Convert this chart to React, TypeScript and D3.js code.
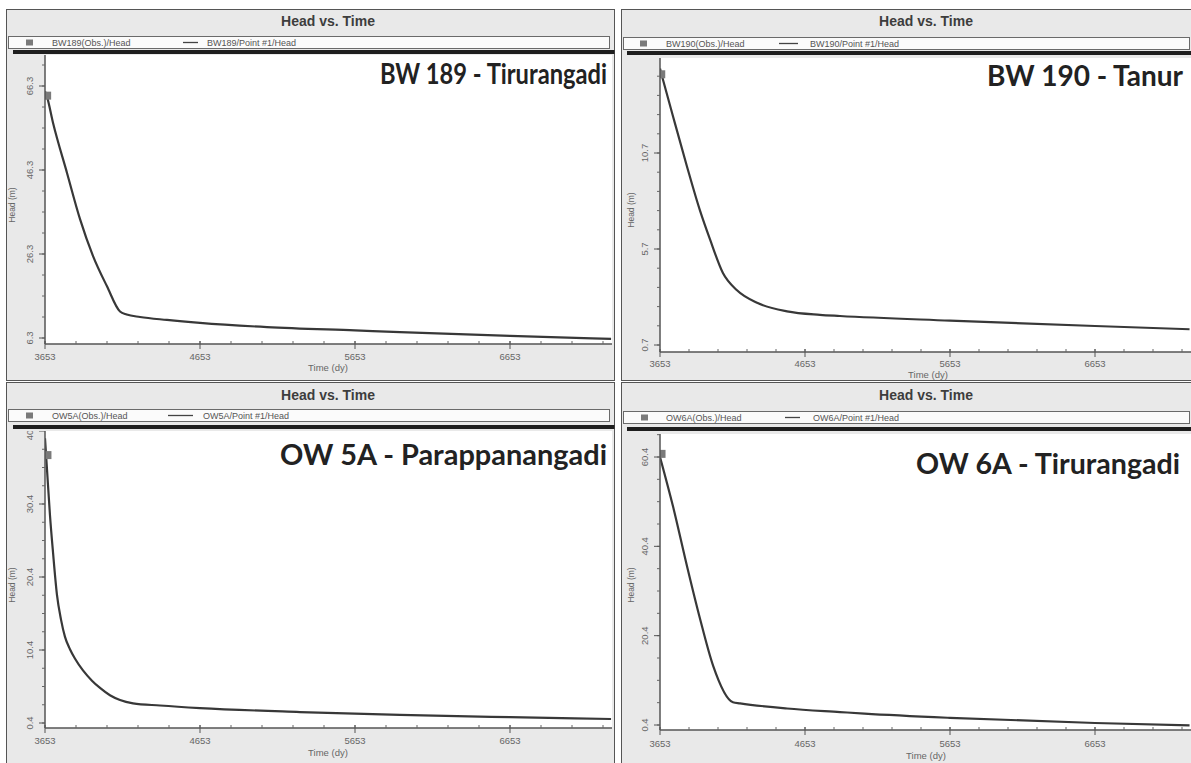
import * as d3 from "d3"

// --- data ---
const xTicks = [3653, 4653, 5653, 6653]
const xEnd = 7305

const bw189Days = [3653, 3666, 3705, 3795, 3879, 3963, 4053, 4137, 4180, 4266, 4440, 4653, 5085, 5653, 5943, 6653, 7305]
const bw189Head = [65.0, 63.7, 57.5, 45.6, 34.6, 25.8, 18.6, 12.6, 11.9, 11.3, 10.6, 9.9, 8.9, 8.1, 7.7, 6.8, 6.1]
const bw189Obs = [{ day: 3670, head: 64.0 }]
const bw189Ticks = [6.3, 26.3, 46.3, 66.3]

const bw190Days = [3653, 3667, 3743, 3839, 3929, 3998, 4087, 4184, 4322, 4529, 4756, 4894, 5653, 6653, 7305]
const bw190Head = [15.1, 14.7, 12.6, 10.0, 7.7, 6.2, 4.45, 3.55, 2.9, 2.45, 2.27, 2.21, 1.97, 1.69, 1.52]
const bw190Obs = [{ day: 3665, head: 14.8 }]
const bw190Ticks = [0.7, 5.7, 10.7]

const ow5aDays = [3653, 3666, 3685, 3705, 3730, 3756, 3782, 3814, 3847, 3898, 3956, 4008, 4072, 4137, 4221, 4395, 4653, 5298, 5943, 6653, 7305]
const ow5aHead = [39.4, 35.1, 28.9, 23.7, 18.0, 14.6, 12.2, 10.5, 9.2, 7.6, 6.2, 5.2, 4.2, 3.55, 3.1, 2.8, 2.45, 1.9, 1.5, 1.2, 0.95]
const ow5aObs = [{ day: 3672, head: 37.1 }]
const ow5aTicks = [0.4, 10.4, 20.4, 30.4, 40.4]

const ow6aDays = [3653, 3743, 3839, 3929, 4019, 4156, 4205, 4529, 4894, 5063, 5653, 6653, 7305]
const ow6aHead = [60.4, 49.3, 36.0, 24.2, 13.7, 5.5, 5.25, 4.1, 3.3, 2.95, 2.0, 0.85, 0.3]
const ow6aObs = [{ day: 3667, head: 61.1 }]
const ow6aTicks = [0.4, 20.4, 40.4, 60.4]

const FONT = "'Liberation Sans', Arial, sans-serif"

interface Panel {
  id: string
  well: string
  name: string
  days: number[]
  head: number[]
  obs: { day: number; head: number }[]
  yTicks: number[]
  yMinor: number
  frame: { x: number; y: number; w: number; h: number }
  titleY: number
  titleX: number
  legend: { y: number; x: number; w: number; sq: number; t1: number; l1: number; l2: number; t2: number }
  barY: number
  barX: number
  plot: { left: number; right: number; top: number; axis: number }
  yVals: [number, number]
  yPx: [number, number]
  xPx: [number, number]
  yLabelX: number
  yTitle: [number, number]
  xLabelY: number
  xTitle: [number, number]
  big: { x: number; y: number; w: number }
}

const panels: Panel[] = [
  {
    id: "tl", well: "BW189", name: "BW 189 - Tirurangadi",
    days: bw189Days, head: bw189Head, obs: bw189Obs, yTicks: bw189Ticks, yMinor: 5,
    frame: { x: 6.5, y: 9.5, w: 608, h: 371 }, titleX: 328, titleY: 26,
    legend: { y: 36.5, x: 8.5, w: 601, sq: 26, t1: 52, l1: 183, l2: 198, t2: 207 },
    barY: 50, barX: 13,
    plot: { left: 45, right: 612, top: 55, axis: 344 },
    yVals: [6.3, 46.3], yPx: [338, 170], xPx: [45, 510],
    yLabelX: 30, yTitle: [13, 205], xLabelY: 360, xTitle: [328, 371],
    big: { x: 380, y: 84, w: 227 },
  },
  {
    id: "tr", well: "BW190", name: "BW 190 - Tanur",
    days: bw190Days, head: bw190Head, obs: bw190Obs, yTicks: bw190Ticks, yMinor: 1,
    frame: { x: 621.5, y: 9.5, w: 580, h: 371 }, titleX: 926, titleY: 26,
    legend: { y: 37.5, x: 623.5, w: 566, sq: 640, t1: 666, l1: 779, l2: 798, t2: 810 },
    barY: 51, barX: 627,
    plot: { left: 660, right: 1191, top: 58, axis: 352 },
    yVals: [0.7, 10.7], yPx: [345, 153], xPx: [660, 1095],
    yLabelX: 645, yTitle: [632, 210], xLabelY: 367, xTitle: [928, 378],
    big: { x: 987, y: 86, w: 196 },
  },
  {
    id: "bl", well: "OW5A", name: "OW 5A - Parappanangadi",
    days: ow5aDays, head: ow5aHead, obs: ow5aObs, yTicks: ow5aTicks, yMinor: 2.5,
    frame: { x: 6.5, y: 382.5, w: 608, h: 390 }, titleX: 328, titleY: 400,
    legend: { y: 409.5, x: 8.5, w: 601, sq: 26, t1: 52, l1: 168, l2: 193, t2: 203 },
    barY: 425, barX: 13,
    plot: { left: 45, right: 612, top: 431, axis: 728 },
    yVals: [0.4, 10.4], yPx: [723, 650], xPx: [45, 510],
    yLabelX: 30, yTitle: [13, 585], xLabelY: 744, xTitle: [328, 756],
    big: { x: 280, y: 465, w: 327 },
  },
  {
    id: "br", well: "OW6A", name: "OW 6A - Tirurangadi",
    days: ow6aDays, head: ow6aHead, obs: ow6aObs, yTicks: ow6aTicks, yMinor: 5,
    frame: { x: 621.5, y: 382.5, w: 580, h: 390 }, titleX: 926, titleY: 400,
    legend: { y: 411.5, x: 623.5, w: 566, sq: 641, t1: 666, l1: 785, l2: 800, t2: 813 },
    barY: 427, barX: 627,
    plot: { left: 660, right: 1191, top: 434, axis: 730 },
    yVals: [0.4, 60.4], yPx: [725, 457], xPx: [660, 1095],
    yLabelX: 645, yTitle: [632, 585], xLabelY: 747, xTitle: [926, 759],
    big: { x: 916, y: 474, w: 264 },
  },
]

const HeadPanel = ({ p }: { p: Panel }) => {
  const { plot } = p
  const y = d3.scaleLinear().domain(p.yVals).range(p.yPx)
  const x = d3.scaleLinear().domain([xTicks[0], xTicks[3]]).range(p.xPx)
  const yTop = y.invert(plot.top)
  const yMinorTicks = d3.range(p.yTicks[0], yTop, p.yMinor).filter((v) => y(v) >= plot.top)
  const xMinorTicks = d3.range(xTicks[0], xEnd, 200).filter((v) => x(v) <= plot.right)
  const pts = p.days.map((d, i) => [d, p.head[i]] as [number, number])
  const line = d3.line<[number, number]>().x((d) => x(d[0])).y((d) => y(d[1])).curve(d3.curveMonotoneX)
  const clipId = `clip-${p.id}`
  const axisClip = `aclip-${p.id}`
  const f = p.frame
  const lg = p.legend

  return (
    <g>
      <defs>
        <clipPath id={clipId}>
          <rect x={plot.left} y={plot.top} width={plot.right - plot.left} height={plot.axis - plot.top} />
        </clipPath>
        <clipPath id={axisClip}>
          <rect x={f.x} y={plot.top} width={f.w} height={f.y + f.h - plot.top} />
        </clipPath>
      </defs>
      <rect x={f.x} y={f.y} width={f.w} height={f.h} fill="#e9e9e9" stroke="#555" strokeWidth={1} />
      <rect x={plot.left} y={plot.top} width={plot.right - plot.left} height={plot.axis - plot.top} fill="#fff" />
      <text x={p.titleX} y={p.titleY} textAnchor="middle" fontFamily={FONT} fontWeight="bold" fontSize={14} fill="#3d3d3d">
        Head vs. Time
      </text>

      {/* curve and observation */}
      <g clipPath={`url(#${clipId})`}>
        <path d={line(pts) ?? ""} fill="none" stroke="#383838" strokeWidth={2.2} />
        {p.obs.map((o, i) => (
          <rect key={i} x={x(o.day) - 3.5} y={y(o.head) - 4} width={7} height={8} fill="#7a7a7a" />
        ))}
      </g>

      {/* axes */}
      <g clipPath={`url(#${axisClip})`} fontFamily={FONT} fill="#666">
        <line x1={plot.left} x2={plot.left} y1={plot.top} y2={plot.axis} stroke="#555" strokeWidth={1.5} />
        <line x1={plot.left} x2={plot.right} y1={plot.axis} y2={plot.axis} stroke="#555" strokeWidth={1.5} />
        {yMinorTicks.map((v) => (
          <line key={`ym${v}`} x1={plot.left - 3} x2={plot.left} y1={y(v)} y2={y(v)} stroke="#666" />
        ))}
        {p.yTicks.map((v) => (
          <g key={`y${v}`}>
            <line x1={plot.left - 6} x2={plot.left} y1={y(v)} y2={y(v)} stroke="#555" />
            <text
              x={p.yLabelX}
              y={y(v)}
              transform={`rotate(-90, ${p.yLabelX}, ${y(v)})`}
              textAnchor="middle"
              dominantBaseline="middle"
              fontSize={9.5}
            >
              {String(v)}
            </text>
          </g>
        ))}
        {xMinorTicks.map((v) => (
          <line key={`xm${v}`} x1={x(v)} x2={x(v)} y1={plot.axis - 3} y2={plot.axis} stroke="#666" />
        ))}
        {xTicks.map((v) => (
          <g key={`x${v}`}>
            <line x1={x(v)} x2={x(v)} y1={plot.axis - 3} y2={plot.axis + 5} stroke="#555" />
            <text x={x(v)} y={p.xLabelY} textAnchor="middle" fontSize={9.5}>
              {String(v)}
            </text>
          </g>
        ))}
        <text x={p.xTitle[0]} y={p.xTitle[1]} textAnchor="middle" fontSize={9.5}>
          Time  (dy)
        </text>
        <text
          x={p.yTitle[0]}
          y={p.yTitle[1]}
          transform={`rotate(-90, ${p.yTitle[0]}, ${p.yTitle[1]})`}
          textAnchor="middle"
          dominantBaseline="middle"
          fontSize={8.5}
        >
          Head (m)
        </text>
      </g>

      {/* legend strip */}
      <rect x={lg.x} y={lg.y} width={lg.w} height={12} fill="#fbfbfb" stroke="#6a6a6a" strokeWidth={1} />
      <rect x={lg.sq} y={lg.y + 3} width={7} height={6} fill="#7a7a7a" />
      <text x={lg.t1} y={lg.y + 9} fontFamily={FONT} fontSize={9} fill="#555">
        {`${p.well}(Obs.)/Head`}
      </text>
      <line x1={lg.l1} x2={lg.l2} y1={lg.y + 6} y2={lg.y + 6} stroke="#444" strokeWidth={1.3} />
      <text x={lg.t2} y={lg.y + 9} fontFamily={FONT} fontSize={9} fill="#555">
        {`${p.well}/Point #1/Head`}
      </text>
      <rect x={p.barX} y={p.barY} width={f.x + f.w - p.barX} height={4} fill="#1e1e1e" />

      {/* well label */}
      <text
        x={p.big.x}
        y={p.big.y}
        textLength={p.big.w}
        lengthAdjust="spacingAndGlyphs"
        fontFamily="Lato, 'Open Sans', sans-serif"
        fontWeight="bold"
        fontSize={28}
        fill="#222"
      >
        {p.name}
      </text>
    </g>
  )
}

export default function App() {
  return (
    <svg
      width={1191}
      height={763}
      style={{ position: "absolute", left: 0, top: 0, background: "#fff" }}
    >
      {panels.map((p) => (
        <HeadPanel key={p.id} p={p} />
      ))}
    </svg>
  )
}
